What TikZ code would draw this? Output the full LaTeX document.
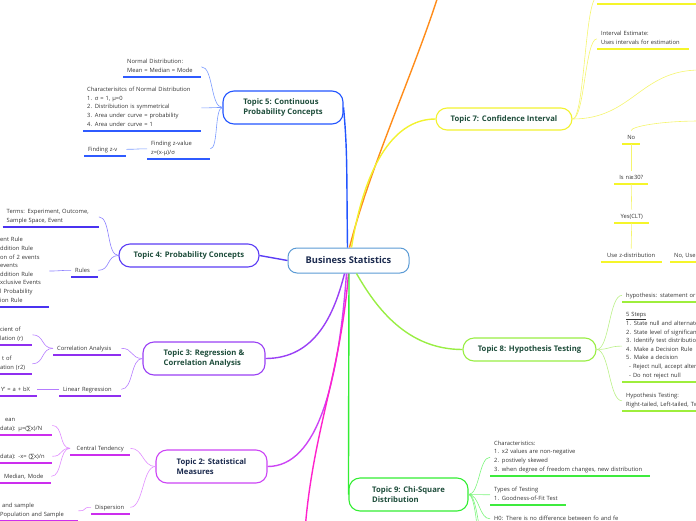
\documentclass[tikz,border=0pt]{standalone}
\usepackage{fontspec}
\setmainfont{Open Sans}
\newfontfamily\symf{DejaVu Sans}
\usepackage{tikz}
\hyphenpenalty=10000
\exhyphenpenalty=10000

\definecolor{rootc}{HTML}{5B9BD5}
\definecolor{roottxt}{HTML}{1B2A4E}
\definecolor{topictxt}{HTML}{1E4D3B}
\definecolor{leaftxt}{HTML}{333333}
\definecolor{c1}{HTML}{FF22CC}
\definecolor{c2}{HTML}{CC44F5}\definecolor{l2}{HTML}{E08CFF}\definecolor{u2}{HTML}{CC2EEE}
\definecolor{c3}{HTML}{9A40F5}\definecolor{l3}{HTML}{B57CFF}\definecolor{u3}{HTML}{8F2FF0}
\definecolor{c4}{HTML}{5B3DF5}\definecolor{l4}{HTML}{8C80FF}\definecolor{u4}{HTML}{4A33F0}
\definecolor{c5}{HTML}{2255FF}\definecolor{l5}{HTML}{7B9BFF}\definecolor{u5}{HTML}{2F5BFF}
\definecolor{c6}{HTML}{FF8C1A}
\definecolor{c7}{HTML}{F2F230}\definecolor{l7}{HTML}{F5F56E}\definecolor{u7}{HTML}{F5F52A}
\definecolor{c8}{HTML}{99EE44}\definecolor{l8}{HTML}{BBF088}\definecolor{u8}{HTML}{9EEE3C}
\definecolor{c9}{HTML}{33EE33}\definecolor{l9}{HTML}{7CF57C}\definecolor{u9}{HTML}{3EEB3E}

\newcommand{\leaffont}{\fontsize{5.8}{8.6}\selectfont}
\newcommand{\topicfont}{\bfseries\fontsize{7.7}{10.5}\selectfont}
\newcommand{\sumx}{{\symf ∑}}

\begin{document}
\begin{tikzpicture}[x=1pt, y=-1pt,
    every node/.style={font=\leaffont, text=leaftxt},
    root/.style={draw=rootc, line width=1pt, rounded corners=9pt, fill=white,
        minimum width=121pt, minimum height=25pt, text=roottxt,
        font=\bfseries\fontsize{9.3}{11}\selectfont},
    topic/.style={draw=#1, line width=1.1pt, rounded corners=11pt, fill=white,
        align=left, inner sep=0pt, text=topictxt, font=\topicfont},
    leaf/.style={align=left, anchor=south west, inner xsep=4pt, inner ysep=2.2pt,
        execute at end node=\strut},
    branch/.style={draw=#1, line width=1.4pt},
    link/.style={draw=#1, line width=0.6pt},
    under/.style={draw=#1, line width=1.8pt}]
    \useasboundingbox (0,0) rectangle (696,520);
    \clip (0,0) rectangle (696,520);

    % Nodes
    \node[root] (root) at (348.5,260.5) {Business Statistics};
    \coordinate (t1) at (305,530);
    \coordinate (t6) at (440,-10);

    \node[topic=c5, minimum width=120pt, minimum height=33pt] (t5) at (283,107.5) {Topic 5: Continuous\\Probability Concepts};
    \node[topic=c4, minimum width=140pt, minimum height=23pt] (t4) at (189,255.5) {Topic 4: Probability Concepts};
    \node[topic=c3, minimum width=122pt, minimum height=33pt] (t3) at (204,358.5) {Topic 3: Regression \&\\Correlation Analysis};
    \node[topic=c2, minimum width=111pt, minimum height=33pt, text=roottxt] (t2) at (211.5,466.5) {Topic 2: Statistical\\Measures};
    \node[topic=c7, minimum width=136pt, minimum height=22pt] (t7) at (504,119) {Topic 7: Confidence Interval};
    \node[topic=c8, minimum width=133pt, minimum height=23pt] (t8) at (529.5,349.5) {Topic 8: Hypothesis Testing};
    \node[topic=c9, minimum width=119pt, minimum height=33pt] (t9) at (408.5,494.5) {Topic 9: Chi-Square\\Distribution};

    % Topic 5
    \node[leaf, text width=70pt] (n51) at (123,77) {Normal Distribution:\\Mean = Median = Mode};
    \node[leaf, text width=110pt] (n52) at (83,131) {Characterisitcs of Normal Distribution\\1. σ = 1, μ=0\\2. Distribiution is symmetrical\\3. Area under curve = probability\\4. Area under curve = 1};
    \node[leaf, text width=55pt] (n53) at (147,159) {Finding z-value\\z=(x-μ)/σ};
    \node[leaf, text width=34pt] (n531) at (84,156) {Finding z-v};

    % Topic 4
    \node[leaf, text width=88pt] (n41) at (2.5,227) {Terms: Experiment, Outcome,\\Sample Space, Event};
    \node[leaf, text width=19pt] (n42) at (71,277) {Rules};
    \node[leaf, text width=45pt] (n421) at (-4,307) {ent Rule\\ddition Rule\\on of 2 events\\events\\ddition Rule\\xclusive Events\\l Probability\\ion Rule};

    % Topic 3
    \node[leaf, text width=60pt] (n31) at (53,355) {Correlation Analysis};
    \node[leaf, text width=28pt] (n311) at (-4,345) {cient of\\lation (r)};
    \node[leaf, text width=28pt] (n312) at (-4,374) {\hspace*{2pt}t of\\ation (r2)};
    \node[leaf, text width=54pt] (n32) at (59,396) {Linear Regression};
    \node[leaf, text width=32pt] (n321) at (-3,396) {Y' = a + bX};

    % Topic 2
    \node[leaf, align=center, text width=52pt] (n21) at (70,455) {Central Tendency};
    \node[leaf, text width=48pt] (n211) at (-4,435) {\hspace*{5pt}ean\\data): μ=(\sumx x)/N};
    \node[leaf, text width=48pt] (n212) at (-4,463) {data): -x= (\sumx x)/n};
    \node[leaf, text width=43pt] (n213) at (0,483) {Median, Mode};
    \node[leaf, text width=31pt] (n22) at (91,514) {Dispersion};
    \node[leaf, text width=74pt] (n221) at (-4,521) {\hspace*{2pt}and sample\\Population and Sample};

    % Topic 7
    \node[leaf, text width=120pt] (n71) at (597,4) {};
    \node[leaf, text width=84pt] (n72) at (597,49) {Interval Estimate:\\Uses intervals for estimation};
    \coordinate (c73) at (700,70);
    \coordinate (q7) at (700,121);
    \node[leaf, align=center, text width=10pt] (no) at (622,144) {No};
    \node[leaf, align=center, text width=26pt] (isn) at (614,184) {Is n{\symf ≥}30?};
    \node[leaf, align=center, text width=27pt] (yes) at (614,223) {Yes(CLT)};
    \node[leaf, align=center, text width=53pt] (usez) at (600.5,262) {Use z-distribution};
    \node[leaf, text width=60pt] (nouse) at (670,262) {No, Use};

    % Topic 8
    \node[leaf, text width=150pt] (n81) at (622,302) {hypothesis: statement or};
    \node[leaf, text width=150pt] (n82) at (622,382) {\underline{5 Steps}\\1. State null and alternate\\2. State level of significance\\3. Identify test distribution\\4. Make a Decision Rule\\5. Make a decision\\\hspace*{3pt}- Reject null, accept alternate\\\hspace*{3pt}- Do not reject null};
    \node[leaf, text width=150pt] (n83) at (622,411) {Hypothesis Testing:\\Right-tailed, Left-tailed, Two-tailed};

    % Topic 9
    \node[leaf, text width=152pt] (n91) at (490,476) {Characteristics:\\1. x2 values are non-negative\\2. postively skewed\\3. when degree of freedom changes, new distribution};
    \node[leaf, text width=68pt] (n92) at (490,505) {Types of Testing\\1. Goodness-of-Fit Test};
    \node[leaf, text width=135pt] (n93) at (490,525.5) {H0: There is no difference between fo and fe};
    \coordinate (c94) at (490,560);
    \coordinate (c95) at (490,600);

    % Underlines
    \foreach \n in {n51,n52,n53,n531} \draw[under=u5] (\n.south west) -- (\n.south east);
    \foreach \n in {n41,n42,n421} \draw[under=u4] (\n.south west) -- (\n.south east);
    \foreach \n in {n31,n311,n312,n32,n321} \draw[under=u3] (\n.south west) -- (\n.south east);
    \foreach \n in {n21,n211,n212,n213,n22,n221} \draw[under=u2] (\n.south west) -- (\n.south east);
    \foreach \n in {n71,n72,no,isn,yes,usez,nouse} \draw[under=u7] (\n.south west) -- (\n.south east);
    \foreach \n in {n81,n82,n83} \draw[under=u8] (\n.south west) -- (\n.south east);
    \foreach \n in {n91,n92,n93} \draw[under=u9] (\n.south west) -- (\n.south east);

    % Edges from the root
    \draw[branch=c5] ([xshift=-1pt]root.north) .. controls +(-1,-80) and +(4,45) .. (t5.east);
    \draw[branch=c6] ([xshift=1pt]root.north) .. controls +(20,-80) and +(-25,80) .. (t6);
    \draw[branch=c7] ([xshift=3pt]root.north) .. controls +(12,-75) and +(-45,0) .. (t7.west);
    \draw[branch=c4] (root.west) -- (t4.east);
    \draw[branch=c3] ([xshift=-4pt]root.south) .. controls +(-10,40) and +(50,0) .. (t3.east);
    \draw[branch=c2] ([xshift=-2pt]root.south) .. controls +(-8,110) and +(50,0) .. (t2.east);
    \draw[branch=c1] (root.south) .. controls +(-8,100) and +(8,-100) .. (t1);
    \draw[branch=c9] ([xshift=0.5pt]root.south) -- (t9.west);
    \draw[branch=c8] ([xshift=8pt]root.south) .. controls +(20,35) and +(-55,0) .. (t8.west);

    % Edges to the leaves
    \draw[link=l5] (t5.west) .. controls +(-12,0) and +(12,0) .. (n51.east);
    \draw[link=l5] (t5.west) .. controls +(-12,0) and +(12,0) .. (n52.east);
    \draw[link=l5] (t5.west) .. controls +(-8,0) and +(8,0) .. (n53.east);
    \draw[link=l5] (n53.west) .. controls +(-12,0) and +(12,0) .. (n531.east);

    \draw[link=l4] (t4.west) .. controls +(-12,0) and +(12,0) .. (n41.east);
    \draw[link=l4] (t4.west) .. controls +(-12,0) and +(12,0) .. (n42.east);
    \draw[link=l4] (n42.west) .. controls +(-12,0) and +(12,0) .. (n421.east);

    \draw[link=l3] (t3.west) .. controls +(-12,0) and +(12,0) .. (n31.east);
    \draw[link=l3] (t3.west) .. controls +(-12,0) and +(12,0) .. (n32.east);
    \draw[link=l3] (n31.west) .. controls +(-12,0) and +(12,0) .. (n311.east);
    \draw[link=l3] (n31.west) .. controls +(-12,0) and +(12,0) .. (n312.east);
    \draw[link=l3] (n32.west) -- (n321.east);

    \draw[link=l2] (t2.west) .. controls +(-13,0) and +(13,0) .. (n21.east);
    \draw[link=l2] (t2.west) .. controls +(-13,0) and +(13,0) .. (n22.east);
    \draw[link=l2] (n21.west) .. controls +(-11,0) and +(11,0) .. (n211.east);
    \draw[link=l2] (n21.west) .. controls +(-11,0) and +(11,0) .. (n212.east);
    \draw[link=l2] (n21.west) .. controls +(-11,0) and +(11,0) .. (n213.east);
    \draw[link=l2] (n22.west) .. controls +(-10,0) and +(10,0) .. (n221.east);

    \draw[link=l7] (t7.east) .. controls +(12,0) and +(-12,0) .. (n71.west);
    \draw[link=l7] (t7.east) .. controls +(12,0) and +(-12,0) .. (n72.west);
    \draw[link=l7] (t7.east) .. controls +(60,0) and +(-60,0) .. (c73);
    \draw[link=l7] (no.north) .. controls +(0,-4) and +(-40,0) .. (q7);
    \draw[link=l7] (no.south) -- (isn.north);
    \draw[link=l7] (isn.south) -- (yes.north);
    \draw[link=l7] (yes.south) -- (usez.north);

    \draw[link=l8] (t8.east) .. controls +(13,0) and +(-13,0) .. (n81.west);
    \draw[link=l8] (t8.east) .. controls +(13,0) and +(-13,0) .. (n82.west);
    \draw[link=l8] (t8.east) .. controls +(13,0) and +(-13,0) .. (n83.west);

    \draw[link=l9] (t9.east) .. controls +(11,0) and +(-11,0) .. (n91.west);
    \draw[link=l9] (t9.east) .. controls +(11,0) and +(-11,0) .. (n92.west);
    \draw[link=l9] (t9.east) .. controls +(11,0) and +(-11,0) .. (n93.west);
    \draw[link=l9] (t9.east) .. controls +(11,0) and +(-11,0) .. (c94);
    \draw[link=l9] (t9.east) .. controls +(11,0) and +(-11,0) .. (c95);
\end{tikzpicture}
\end{document}
